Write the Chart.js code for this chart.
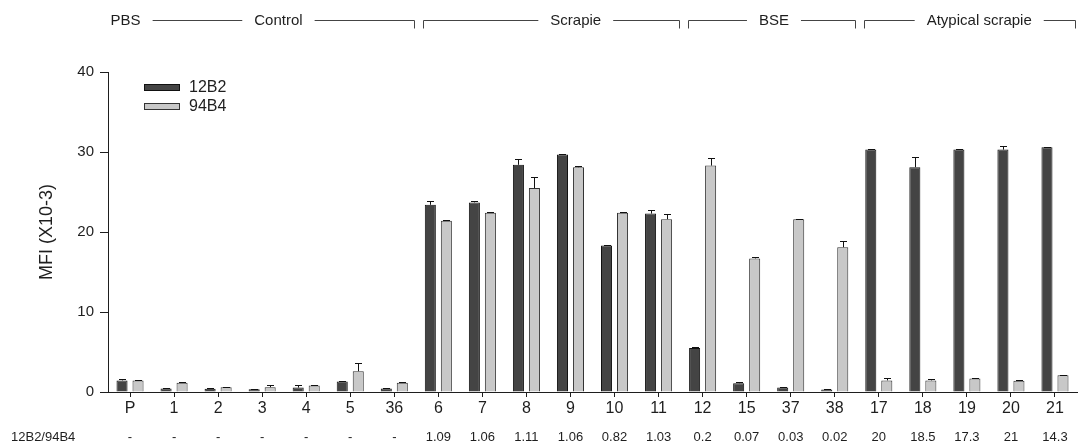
<!DOCTYPE html>
<html>
<head>
<meta charset="utf-8">
<script src="https://cdn.jsdelivr.net/npm/chart.js@4.4.0/dist/chart.umd.min.js"></script>
<style>
  html, body { margin: 0; padding: 0; background: #fff; }
  #wrap { width: 1078px; height: 446px; }
</style>
</head>
<body>
<div id="wrap"><canvas id="chart"></canvas></div>
<script>
const CATEGORIES = ['P', '1', '2', '3', '4', '5', '36', '6', '7', '8', '9', '10', '11', '12', '15', '37', '38', '17', '18', '19', '20', '21'];
const MFI_12B2 = [1.45, 0.45, 0.4, 0.35, 0.55, 1.3, 0.45, 23.4, 23.7, 28.4, 29.7, 18.3, 22.3, 5.5, 1.1, 0.55, 0.3, 30.3, 28.1, 30.3, 30.3, 30.6];
const ERR_12B2 = [0.15, 0.05, 0.05, 0.05, 0.3, 0.05, 0.05, 0.5, 0.15, 0.7, 0.1, 0.1, 0.5, 0.1, 0.1, 0.1, 0.05, 0.05, 1.3, 0.05, 0.5, 0.05];
const MFI_94B4 = [1.45, 1.15, 0.6, 0.6, 0.8, 2.6, 1.15, 21.4, 22.4, 25.5, 28.1, 22.4, 21.6, 28.3, 16.7, 21.6, 18.1, 1.45, 1.45, 1.7, 1.4, 2.1];
const ERR_94B4 = [0.05, 0.05, 0.05, 0.3, 0.05, 1.0, 0.05, 0.1, 0.1, 1.4, 0.1, 0.05, 0.6, 0.9, 0.15, 0.05, 0.8, 0.35, 0.2, 0.05, 0.05, 0.05];
const RATIO_LABEL = '12B2/94B4';
const RATIOS = ['-', '-', '-', '-', '-', '-', '-', '1.09', '1.06', '1.11', '1.06', '0.82', '1.03', '0.2', '0.07', '0.03', '0.02', '20', '18.5', '17.3', '21', '14.3'];
const HEADER_TEXT = ['PBS', 'Control', 'Scrapie', 'BSE', 'Atypical scrapie'];
const HEADER_AT = [-0.1, 3.37, 10.12, 14.62, 19.28];
const BRACKET_FROM = [0, 7, 13, 17];
const BRACKET_TO = [6, 12, 16, 21];

const FONT = '"Liberation Sans", Arial, sans-serif';
const INK = '#1e1e1e';

const extras = {
  id: 'extras',
  afterDatasetsDraw(chart) {
    // error bars, upper side only
    const ctx = chart.ctx;
    const y = chart.scales.y;
    const errs = [ERR_12B2, ERR_94B4];
    ctx.save();
    ctx.strokeStyle = '#111';
    ctx.lineWidth = 1;
    chart.data.datasets.forEach((ds, d) => {
      chart.getDatasetMeta(d).data.forEach((bar, i) => {
        const e = errs[d][i];
        if (!e) return;
        const yt = Math.round(y.getPixelForValue(ds.data[i] + e)) + 0.5;
        const xc = Math.round(bar.x) + 0.5;
        ctx.beginPath();
        ctx.moveTo(xc, bar.y);
        ctx.lineTo(xc, yt);
        ctx.moveTo(xc - 3.5, yt);
        ctx.lineTo(xc + 3.5, yt);
        ctx.stroke();
      });
    });
    ctx.restore();
  },
  afterDraw(chart) {
    const ctx = chart.ctx;
    const x = chart.scales.x;
    const step = x.getPixelForValue(1) - x.getPixelForValue(0);
    ctx.save();

    // legend
    ctx.font = '16px ' + FONT;
    ctx.textBaseline = 'middle';
    ctx.textAlign = 'left';
    chart.data.datasets.forEach((ds, d) => {
      const top = 84 + d * 19;
      ctx.fillStyle = ds.backgroundColor;
      ctx.strokeStyle = ds.borderColor;
      ctx.lineWidth = 1;
      ctx.fillRect(144, top, 36, 7);
      ctx.strokeRect(144.5, top + 0.5, 35, 6);
      ctx.fillStyle = INK;
      ctx.fillText(ds.label, 189, top + 4);
    });

    // ratio row
    ctx.font = '13px ' + FONT;
    ctx.fillStyle = INK;
    ctx.textAlign = 'left';
    ctx.fillText(RATIO_LABEL, 11, 437);
    ctx.textAlign = 'center';
    RATIOS.forEach((r, i) => {
      ctx.fillText(r, x.getPixelForValue(i), 437);
    });

    // group headers with bracket lines
    ctx.font = '15px ' + FONT;
    const yl = 20.5;
    const gap = 12;
    const texts = HEADER_TEXT.map((t, k) => {
      const c = x.getPixelForValue(HEADER_AT[k]);
      const w = ctx.measureText(t).width;
      return { t, c, l: c - w / 2, r: c + w / 2 };
    });
    texts.forEach((o) => ctx.fillText(o.t, o.c, yl));
    ctx.strokeStyle = '#444';
    ctx.lineWidth = 1;
    BRACKET_FROM.forEach((from, b) => {
      const xl = Math.round(x.getPixelForValue(from) - step / 2 + 7) + 0.5;
      const xr = Math.round(x.getPixelForValue(BRACKET_TO[b]) + step / 2 - 2) + 0.5;
      ctx.beginPath();
      if (b > 0) {
        ctx.moveTo(xl, yl + 8);
        ctx.lineTo(xl, yl);
      }
      let cursor = xl;
      texts.filter((o) => o.c > xl && o.c < xr).forEach((o) => {
        if (o.l - gap > cursor) {
          ctx.moveTo(cursor, yl);
          ctx.lineTo(o.l - gap, yl);
        }
        cursor = o.r + gap;
      });
      ctx.moveTo(cursor, yl);
      ctx.lineTo(xr, yl);
      ctx.lineTo(xr, yl + 8);
      ctx.stroke();
    });
    ctx.restore();
  }
};

new Chart(document.getElementById('chart'), {
  type: 'bar',
  data: {
    labels: CATEGORIES,
    datasets: [
      {
        label: '12B2',
        data: MFI_12B2,
        backgroundColor: '#444444',
        borderColor: '#111',
        borderWidth: 1,
      },
      {
        label: '94B4',
        data: MFI_94B4,
        backgroundColor: '#c8c8c8',
        borderColor: '#333',
        borderWidth: 1,
      },
    ],
  },
  options: {
    responsive: true,
    maintainAspectRatio: false,
    animation: false,
    categoryPercentage: 0.727,
    barPercentage: 0.69,
    layout: { padding: { top: 72, right: 1, left: 0, bottom: 0 } },
    plugins: { legend: { display: false }, tooltip: { enabled: false } },
    scales: {
      x: {
        offset: true,
        grid: { offset: false, drawOnChartArea: false, tickLength: 5, color: INK },
        border: { color: INK, width: 1 },
        ticks: { color: INK, font: { size: 16, family: FONT }, padding: 2, maxRotation: 0, autoSkip: false },
        afterFit: (s) => { s.height = 54; },
      },
      y: {
        min: 0,
        max: 40,
        grid: { drawOnChartArea: false, tickLength: 8, color: INK },
        border: { color: INK, width: 1 },
        ticks: { color: INK, stepSize: 10, font: { size: 15, family: FONT }, padding: 6 },
        title: {
          display: true,
          text: 'MFI (X10-3)',
          color: INK,
          font: { size: 18, family: FONT },
          padding: { top: 36, bottom: 0 },
        },
        afterFit: (s) => { s.width = 108; },
      },
    },
  },
  plugins: [extras],
});
</script>
</body>
</html>
